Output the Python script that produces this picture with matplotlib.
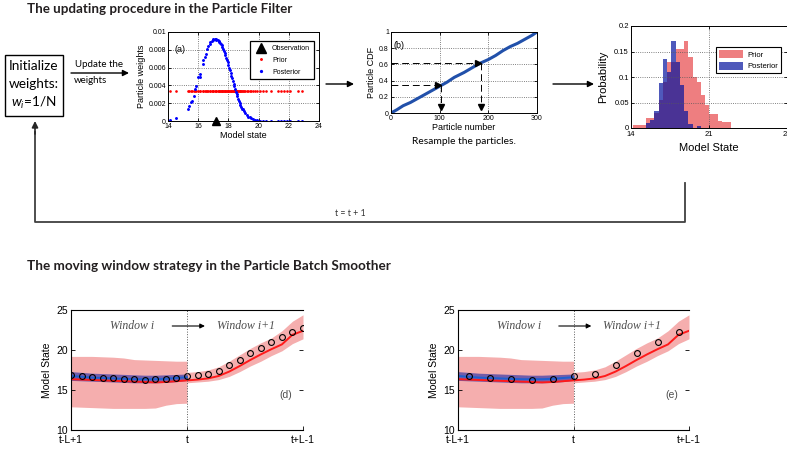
import numpy as np
import matplotlib
matplotlib.use("Agg")
import matplotlib.pyplot as plt
from matplotlib.patches import Rectangle

plt.rcParams['font.family'] = ['Liberation Sans', 'DejaVu Sans']
plt.rcParams['mathtext.fontset'] = 'custom'
plt.rcParams['mathtext.it'] = 'Lato:italic'
plt.rcParams['mathtext.rm'] = 'Lato'

# (a) particles: position, posterior weight (prior weight is 1/N for all)
particle_x = [14.15, 14.55, 15.3, 15.4, 15.5, 15.6, 15.7, 15.8, 15.85, 16.0, 16.1, 16.15,
              16.3, 16.35, 16.45, 16.5, 16.6, 16.65, 16.75, 16.8, 16.9, 16.95, 17.0, 17.1,
              17.15, 17.2, 17.3, 17.35, 17.4, 17.45, 17.5, 17.55, 17.6, 17.65, 17.7, 17.75,
              17.8, 17.85, 17.9, 17.95, 18.0, 18.05, 18.1, 18.15, 18.2, 18.25, 18.3, 18.35,
              18.4, 18.45, 18.5, 18.55, 18.6, 18.65, 18.7, 18.75, 18.8, 18.85, 18.9, 18.95,
              19.0, 19.1, 19.2, 19.3, 19.4, 19.5, 19.6, 19.75, 19.9, 20.1, 20.3, 20.5,
              20.8, 21.3, 21.5, 21.65, 21.9, 22.1, 22.6, 22.85]
posterior_w = [0.0001, 0.0003, 0.0013, 0.0017, 0.0021, 0.0023, 0.0028, 0.0036, 0.0039, 0.0050, 0.0053, 0.0049,
               0.0064, 0.0068, 0.0072, 0.0075, 0.0081, 0.0084, 0.0087, 0.0089, 0.0090, 0.0091, 0.0092, 0.0092,
               0.0091, 0.0092, 0.0091, 0.0090, 0.0089, 0.0088, 0.0087, 0.0085, 0.0083, 0.0081, 0.0079, 0.0076,
               0.0074, 0.0071, 0.0068, 0.0066, 0.0063, 0.0060, 0.0057, 0.0054, 0.0051, 0.0048, 0.0045, 0.0042,
               0.0039, 0.0036, 0.0033, 0.0030, 0.0028, 0.0025, 0.0023, 0.0020, 0.0018, 0.0016, 0.0014, 0.0013,
               0.0011, 0.0009, 0.0007, 0.0005, 0.0004, 0.0003, 0.0002, 0.00015, 0.0001, 0.00005, 0.00002, 0.0,
               0.0, 0.0, 0.0, 0.0, 0.0, 0.0, 0.0, 0.0]
n_particles = 300
observation = 17.2

# (b) cumulative weights
cdf_n = [0, 12, 25, 40, 55, 70, 85, 100, 115, 130, 150, 170, 185, 200, 215, 230, 245, 260, 275, 290, 300]
cdf_v = [0, 0.04, 0.09, 0.13, 0.18, 0.23, 0.28, 0.33, 0.38, 0.44, 0.50, 0.57, 0.62, 0.66, 0.71,
         0.77, 0.82, 0.86, 0.91, 0.96, 1.0]
picks_u = [0.35, 0.62]
picks_n = [103, 184]

# (c) histograms
bin_edges = [14.2, 14.58, 14.96, 15.34, 15.72, 16.1, 16.48, 16.86, 17.24, 17.62, 18.0, 18.38,
             18.76, 19.14, 19.52, 19.9, 20.28, 20.66, 21.04, 21.42, 21.8, 22.18, 22.56, 22.94]
prior_prob = [0.006, 0.006, 0.006, 0.02, 0.02, 0.03, 0.055, 0.09, 0.13, 0.13, 0.155, 0.155,
              0.17, 0.14, 0.10, 0.09, 0.065, 0.045, 0.027, 0.027, 0.013, 0.012, 0.012]
post_prob = [0, 0, 0, 0.01, 0.015, 0.033, 0.088, 0.135, 0.11, 0.17, 0.13, 0.085,
             0.033, 0.007, 0, 0.003, 0, 0, 0, 0, 0, 0, 0]

# (d)/(e) moving window
steps = list(range(23))
obs = [16.9, 16.8, 16.6, 16.5, 16.45, 16.4, 16.35, 16.3, 16.35, 16.4, 16.5, 16.7,
       16.9, 17.05, 17.4, 18.1, 18.8, 19.6, 20.3, 20.95, 21.6, 22.2, 22.8]
filt_mean = [16.35, 16.3, 16.25, 16.2, 16.15, 16.1, 16.05, 16.0, 15.95, 16.0, 16.1, 16.2,
             16.3, 16.45, 16.75, 17.3, 18.0, 18.75, 19.45, 20.1, 20.7, 21.9, 22.4]
win_a_hi = [19.2, 19.2, 19.2, 19.15, 19.1, 19.0, 18.8, 18.75, 18.7, 18.65, 18.6, 18.6]
win_a_lo = [12.9, 12.85, 12.8, 12.75, 12.7, 12.7, 12.7, 12.7, 12.75, 13.1, 13.3, 13.35]
win_b_hi = [17.2, 17.3, 17.5, 17.9, 18.6, 19.4, 20.2, 20.9, 21.5, 22.4, 23.6, 24.4]
win_b_lo = [15.9, 16.0, 16.1, 16.3, 16.7, 17.3, 18.0, 18.6, 19.3, 19.9, 20.8, 21.4]
smooth_mean = [16.75, 16.65, 16.55, 16.5, 16.45, 16.4, 16.35, 16.35, 16.35, 16.4, 16.5, 16.6]
smooth_hi = [17.3, 17.2, 17.1, 17.05, 17.0, 16.95, 16.9, 16.85, 16.85, 16.9, 16.95, 17.0]
smooth_lo = [16.2, 16.15, 16.1, 16.05, 16.0, 15.95, 15.9, 15.9, 15.9, 15.95, 16.05, 16.2]
window_ticks = ['t-L+1', 't', 't+L-1']

W, H = 787, 453
fig = plt.figure(figsize=(W / 100, H / 100), dpi=100)


def place(x0, y0, x1, y1):
    return fig.add_axes([x0 / W, 1 - y1 / H, (x1 - x0) / W, (y1 - y0) / H])


def matlab_style(ax, fs):
    ax.tick_params(direction='in', length=2.5, width=0.6, labelsize=fs,
                   top=True, right=True, pad=1.5)
    ax.grid(True, linestyle=':', color='0.35', lw=0.6)
    for s in ax.spines.values():
        s.set_linewidth(0.7)


# flow chart layer in pixel coordinates
bg = fig.add_axes([0, 0, 1, 1])
bg.set_xlim(0, W)
bg.set_ylim(H, 0)
bg.axis('off')

bg.text(27, 9, 'The updating procedure in the Particle Filter', family='Lato',
        weight='bold', fontsize=9.6, va='center', color='#231f20')
bg.text(27, 266, 'The moving window strategy in the Particle Batch Smoother', family='Lato',
        weight='bold', fontsize=9.7, va='center', color='#231f20')

bg.add_patch(Rectangle((5, 55), 58, 61, fill=False, lw=1.0, ec='k'))
for yy, s in [(66, 'Initialize'), (84, 'weights:'), (103, r'$w_i$=1/N')]:
    bg.text(34, yy, s, family='Lato', fontsize=9.8, ha='center', va='center')

arrow_kw = dict(arrowstyle='-|>', color='k', lw=1.0, mutation_scale=9, shrinkA=0, shrinkB=0)
bg.annotate('', xy=(129, 73), xytext=(71, 73), arrowprops=arrow_kw)
bg.text(99, 69, 'Update the', family='Lato', fontsize=7, ha='center', va='bottom')
bg.text(74, 76, 'weights', family='Lato', fontsize=7, ha='left', va='top')
bg.annotate('', xy=(354, 84), xytext=(326, 84), arrowprops=arrow_kw)
bg.annotate('', xy=(594, 84), xytext=(553, 84), arrowprops=arrow_kw)
bg.text(464, 141, 'Resample the particles.', family='Lato', fontsize=7.4, ha='center', va='center')

# loop back to the start
bg.plot([685, 685, 35, 35], [183, 222, 222, 132], color='0.25', lw=1.3)
bg.annotate('', xy=(35, 121), xytext=(35, 134),
            arrowprops=dict(arrowstyle='-|>', color='0.15', lw=1.2, mutation_scale=9,
                            shrinkA=0, shrinkB=0))
bg.text(350, 213, 't = t + 1', family='Lato', fontsize=6.3, ha='center', va='center', color='0.2')

# (a) particle weights
ax_a = place(168, 32, 319, 121)
ax_a.plot(particle_x, [1 / n_particles] * len(particle_x), '.', color='red', ms=1.8, label='Prior')
ax_a.plot(particle_x, posterior_w, '.', color='blue', ms=2.2, label='Posterior')
ax_a.plot([observation], [0], '^', color='k', ms=6, clip_on=False, zorder=5, label='Observation')
ax_a.set_xlim(14, 24)
ax_a.set_ylim(0, 0.01)
ax_a.set_xticks(range(14, 25, 2))
ax_a.set_yticks([0, 0.002, 0.004, 0.006, 0.008, 0.01])
ax_a.set_yticklabels(['0', '0.002', '0.004', '0.006', '0.008', '0.01'])
matlab_style(ax_a, 5)
ax_a.set_xlabel('Model state', fontsize=6.5, labelpad=1)
ax_a.set_ylabel('Particle weights', fontsize=6.5, labelpad=2)
ax_a.text(14.4, 0.0078, '(a)', fontsize=6.5)
h, l = ax_a.get_legend_handles_labels()
leg = ax_a.legend([h[2], h[0], h[1]], [l[2], l[0], l[1]], loc='upper left',
                  bbox_to_anchor=(247 / W, 1 - 38 / H), bbox_transform=fig.transFigure,
                  fontsize=5, fancybox=False, edgecolor='k', framealpha=1,
                  borderpad=0.5, labelspacing=0.7, handletextpad=0.6, markerscale=1.2)
leg.get_frame().set_linewidth(0.9)

# (b) resampling from the CDF
ax_b = place(391, 32, 537, 113)
ax_b.plot(cdf_n, cdf_v, color='#2150aa', lw=2.2)
for n, u in zip(picks_n, picks_u):
    ax_b.plot([0, n - 6], [u, u], color='k', lw=0.7, dashes=(7, 4))
    ax_b.plot([n - 6], [u], '>', color='k', ms=4)
    ax_b.plot([n, n], [u, 0.1], color='k', lw=0.7, dashes=(7, 4))
    ax_b.plot([n], [0.08], 'v', color='k', ms=4)
ax_b.set_xlim(0, 300)
ax_b.set_ylim(0, 1)
ax_b.set_xticks([0, 100, 200, 300])
ax_b.set_yticks([0, 0.2, 0.4, 0.6, 0.8, 1])
ax_b.set_yticklabels(['0', '0.2', '0.4', '0.6', '0.8', '1'])
matlab_style(ax_b, 5)
ax_b.set_xlabel('Particle number', fontsize=6.5, labelpad=1)
ax_b.set_ylabel('Particle CDF', fontsize=6.5, labelpad=2)
ax_b.text(5, 0.8, '(b)', fontsize=6.5)

# (c) prior vs posterior histogram
ax_c = place(631, 26, 787, 128)
widths = np.diff(bin_edges)
ax_c.bar(bin_edges[:-1], prior_prob, width=widths, align='edge', color='#e8484a', alpha=0.7,
         lw=0, label='Prior')
ax_c.bar(bin_edges[:-1], post_prob, width=widths, align='edge', color='#05139f', alpha=0.7,
         lw=0, label='Posterior')
ax_c.set_xlim(14, 28)
ax_c.set_ylim(0, 0.2)
ax_c.set_xticks([14, 21, 28])
ax_c.set_yticks([0, 0.05, 0.1, 0.15, 0.2])
ax_c.set_yticklabels(['0', '0.05', '0.1', '0.15', '0.2'])
matlab_style(ax_c, 5.5)
ax_c.tick_params(axis='x', pad=2.5)
ax_c.set_xlabel('Model State', fontsize=8, labelpad=3)
ax_c.set_ylabel('Probability', fontsize=8, labelpad=4)
leg_c = ax_c.legend(loc='upper left', bbox_to_anchor=(712 / W, 1 - 43 / H),
                    bbox_transform=fig.transFigure, fontsize=5.5, fancybox=False,
                    edgecolor='k', framealpha=1, borderpad=0.4, labelspacing=0.4,
                    handlelength=3.2, handleheight=1.3, handletextpad=0.5)
leg_c.get_frame().set_linewidth(0.8)


# (d), (e) moving window smoother
def window_panel(ax, obs_x, obs_y, tag):
    ax.fill_between(steps[:12], win_a_lo, win_a_hi, color='#f5aeae', lw=0)
    ax.fill_between(steps[11:], win_b_lo, win_b_hi, color='#f5aeae', lw=0)
    ax.fill_between(steps[:12], smooth_lo, smooth_hi, color='#3a3aa8', alpha=0.7, lw=0)
    ax.plot(steps, filt_mean, color='#ff1a1a', lw=1.4)
    ax.plot(steps[:12], smooth_mean, color='#1f5fd0', lw=1.4)
    ax.plot(obs_x, obs_y, 'o', mfc='none', mec='k', ms=4.2, mew=0.8)
    ax.set_xlim(0, 22)
    ax.set_ylim(10, 25)
    ax.set_xticks([0, 11, 22])
    ax.set_xticklabels(window_ticks)
    ax.set_yticks([10, 15, 20, 25])
    ax.tick_params(direction='in', length=3, width=0.6, labelsize=7.5, right=True, pad=2)
    ax.tick_params(axis='x', pad=3.5)
    for x in (11, 22):
        ax.axvline(x, color='0.35', ls=':', lw=0.7)
    ax.spines['right'].set_visible(False)
    for s in ('left', 'bottom', 'top'):
        ax.spines[s].set_linewidth(0.8)
    ax.set_ylabel('Model State', fontsize=7.5, labelpad=3)
    ax.text(5.8, 23.0, 'Window i', family='Liberation Serif', style='italic', fontsize=8.5,
            color='0.3', ha='center', va='center')
    ax.text(16.6, 23.0, 'Window i+1', family='Liberation Serif', style='italic', fontsize=8.5,
            color='0.3', ha='center', va='center')
    ax.annotate('', xy=(12.7, 23.0), xytext=(9.6, 23.0),
                arrowprops=dict(arrowstyle='-|>', color='k', lw=0.8, mutation_scale=7,
                                shrinkA=0, shrinkB=0))
    ax.text(20.4, 14.4, tag, fontsize=7.5, color='0.3', ha='center', va='center')


ax_d = place(71, 310, 303, 430)
window_panel(ax_d, steps, obs, '(d)')
ax_e = place(458, 310, 689, 430)
window_panel(ax_e, steps[1::2], obs[1::2], '(e)')

fig.savefig('out.png', dpi=100)
